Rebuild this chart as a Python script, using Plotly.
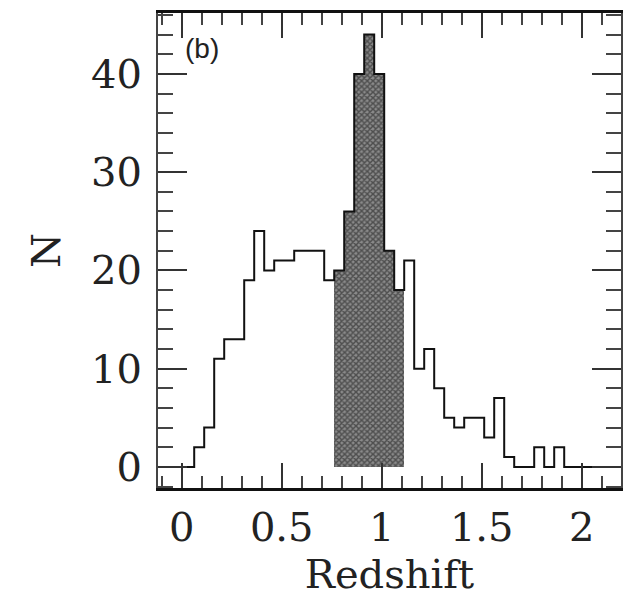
import plotly.graph_objects as go

# Histogram bins (left edges) and counts
bin_left = [-0.1375, -0.0875, -0.0375, 0.0125, 0.0625, 0.1125, 0.1625, 0.2125, 0.2625,
            0.3125, 0.3625, 0.4125, 0.4625, 0.5125, 0.5625, 0.6125, 0.6625, 0.7125,
            0.7625, 0.8125, 0.8625, 0.9125, 0.9625, 1.0125, 1.0625, 1.1125, 1.1625,
            1.2125, 1.2625, 1.3125, 1.3625, 1.4125, 1.4625, 1.5125, 1.5625, 1.6125,
            1.6625, 1.7125, 1.7625, 1.8125, 1.8625, 1.9125, 1.9625, 2.0125, 2.0625,
            2.1125, 2.1625]
counts = [0, 0, 0, 0, 2, 4, 11, 13, 13,
          19, 24, 20, 21, 21, 22, 22, 22, 19,
          20, 26, 40, 44, 40, 22, 18, 21, 10,
          12, 8, 5, 4, 5, 5, 3, 7, 1,
          0, 0, 2, 0, 2, 0, 0, 0, 0,
          0, 0]
bin_width = 0.05

# Shaded (cluster) bins
shade_left = [0.7625, 0.8125, 0.8625, 0.9125, 0.9625, 1.0125, 1.0625]
shade_counts = [20, 26, 40, 44, 40, 22, 18]

x_ticks = [0, 0.5, 1, 1.5, 2]
x_labels = ["0", "0.5", "1", "1.5", "2"]
y_ticks = [0, 10, 20, 30, 40]
y_labels = ["0", "10", "20", "30", "40"]

fig = go.Figure()

fig.add_trace(go.Bar(
    x=[v + bin_width / 2 for v in shade_left],
    y=shade_counts,
    width=bin_width,
    marker=dict(
        color="#555555",
        line=dict(width=0),
        pattern=dict(shape="x", fgcolor="#111111", bgcolor="#8a8a8a", size=4, solidity=0.6),
    ),
    showlegend=False,
    hoverinfo="skip",
))

step_x = bin_left + [bin_left[-1] + bin_width]
step_y = counts + [counts[-1]]
fig.add_trace(go.Scatter(
    x=step_x, y=step_y, mode="lines",
    line=dict(color="#111111", width=2, shape="hv"),
    showlegend=False, hoverinfo="skip",
))

serif = "DejaVu Serif"

fig.update_layout(
    width=628, height=597,
    margin=dict(l=158, r=7, t=13, b=109),
    paper_bgcolor="white", plot_bgcolor="white",
    bargap=0,
    font=dict(family=serif, size=40, color="#222222"),
    annotations=[dict(
        x=0.005, y=42.6, xref="x", yref="y", text="(b)", showarrow=False,
        xanchor="left", yanchor="middle",
        font=dict(family="Liberation Sans", size=28, color="#222222"),
    )],
)

fig.update_xaxes(
    range=[-0.1185, 2.1965],
    tickvals=x_ticks, ticktext=x_labels,
    ticks="inside", ticklen=25, tickwidth=2, tickcolor="#333333",
    minor=dict(ticks="inside", dtick=0.1, tick0=0, ticklen=12, tickwidth=2, tickcolor="#444444"),
    showline=True, linecolor="#111111", linewidth=3, mirror="allticks",
    showgrid=False, zeroline=False, automargin=False,
    ticklabelstandoff=2,
    title=dict(text="Redshift", font=dict(family=serif, size=40, color="#222222"), standoff=14),
    tickfont=dict(family=serif, size=40, color="#222222"),
)
fig.update_yaxes(
    range=[-2.15, 46.2],
    tickvals=y_ticks, ticktext=y_labels,
    ticks="inside", ticklen=29, tickwidth=2, tickcolor="#333333",
    minor=dict(ticks="inside", dtick=2, tick0=0, ticklen=15, tickwidth=2, tickcolor="#444444"),
    showline=True, linecolor="#444444", linewidth=2, mirror="allticks",
    showgrid=False, zeroline=False, automargin=False,
    ticklabelstandoff=6,
    title=dict(text="N", font=dict(family=serif, size=40, color="#222222"), standoff=18),
    tickfont=dict(family=serif, size=40, color="#222222"),
)

fig.write_html("out.html", config={"displayModeBar": False},
               post_script="document.body.style.margin='0';document.body.style.overflow='hidden';")
